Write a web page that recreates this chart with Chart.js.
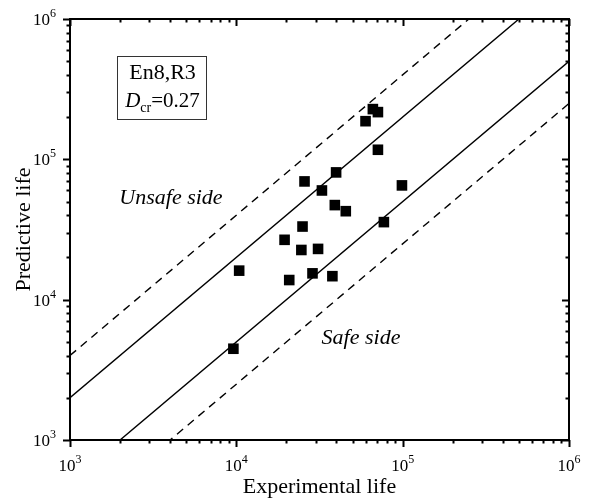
<!DOCTYPE html>
<html>
<head>
<meta charset="utf-8">
<script src="https://cdn.jsdelivr.net/npm/chart.js@4"></script>
<style>
  html, body { margin: 0; padding: 0; background: #fff; }
  #wrap { width: 591px; height: 504px; }
</style>
</head>
<body>
<div id="wrap"><canvas id="lifeChart" width="591" height="504"></canvas></div>
<script>
// experimental vs predicted fatigue life (En8, R3)
const expLife = [66200, 71000, 59800, 71000, 39800, 25700, 32700, 99000, 39100, 45500,
                 77100, 25000, 19500, 24600, 31000, 10400, 20800, 28700, 37800, 9600];
const predLife = [228000, 217000, 187000, 117000, 80700, 69600, 60000, 65200, 47200, 42700,
                  35700, 33200, 26700, 22600, 23000, 16100, 13800, 15400, 14700, 4470];

// scatter band factors: solid = factor 2, dashed = factor 4
const solidFactors = [2, 0.5];
const dashedFactors = [4, 0.25];
const axisMin = 1e3;
const axisMax = 1e6;
const decadeExps = [3, 4, 5, 6];

const serif = '"Liberation Serif", "Times New Roman", serif';

function bandLine(f, dashed) {
  return {
    type: 'line',
    data: [{ x: axisMin, y: f * axisMin }, { x: axisMax, y: f * axisMax }],
    borderColor: '#000',
    borderWidth: 1.4,
    borderDash: dashed ? [8, 6] : [],
    pointRadius: 0,
    fill: false
  };
}

const frameAndTicks = {
  id: 'frameAndTicks',
  afterDatasetsDraw(chart) {
    const ctx = chart.ctx;
    const area = chart.chartArea;
    const xs = chart.scales.x;
    const ys = chart.scales.y;
    ctx.save();
    ctx.strokeStyle = '#000';
    ctx.fillStyle = '#000';

    // frame
    ctx.lineWidth = 2;
    ctx.strokeRect(area.left, area.top, area.right - area.left, area.bottom - area.top);

    // major + minor ticks, outward on bottom/left, inward on top/right
    ctx.lineWidth = 2;
    ctx.beginPath();
    for (let e = 3; e <= 6; e++) {
      for (let m = 1; m <= 9; m++) {
        if (e === 6 && m > 1) break;
        const v = m * Math.pow(10, e);
        const len = m === 1 ? 7 : 3.5;
        const px = Math.round(xs.getPixelForValue(v)) + 0.5;
        const py = Math.round(ys.getPixelForValue(v)) + 0.5;
        ctx.moveTo(px, area.bottom); ctx.lineTo(px, area.bottom + len);
        ctx.moveTo(px, area.top); ctx.lineTo(px, area.top + len);
        ctx.moveTo(area.left, py); ctx.lineTo(area.left - len, py);
        ctx.moveTo(area.right, py); ctx.lineTo(area.right - len, py);
      }
    }
    ctx.stroke();

    // power-of-ten tick labels
    const baseFont = '17px ' + serif;
    const expFont = '12px ' + serif;
    decadeExps.forEach(e => {
      const v = Math.pow(10, e);
      ctx.font = baseFont;
      const wBase = ctx.measureText('10').width;
      ctx.font = expFont;
      const wExp = ctx.measureText(String(e)).width;
      const total = wBase + wExp;

      // x axis
      const px = xs.getPixelForValue(v);
      let x0 = px - total / 2;
      ctx.textAlign = 'left';
      ctx.textBaseline = 'alphabetic';
      ctx.font = baseFont;
      ctx.fillText('10', x0, area.bottom + 31);
      ctx.font = expFont;
      ctx.fillText(String(e), x0 + wBase, area.bottom + 23);

      // y axis
      const py = ys.getPixelForValue(v);
      x0 = area.left - 14 - total;
      ctx.font = baseFont;
      ctx.fillText('10', x0, py + 6);
      ctx.font = expFont;
      ctx.fillText(String(e), x0 + wBase, py - 2);
    });

    // legend box
    const bx = 117, by = 56, bw = 89, bh = 63;
    ctx.fillStyle = '#fff';
    ctx.fillRect(bx, by, bw, bh);
    ctx.lineWidth = 1;
    ctx.strokeStyle = '#333';
    ctx.strokeRect(bx + 0.5, by + 0.5, bw, bh);
    ctx.fillStyle = '#000';
    ctx.textAlign = 'center';
    ctx.font = '22px ' + serif;
    ctx.fillText('En8,R3', bx + bw / 2 + 1, by + 23);

    ctx.textAlign = 'left';
    ctx.font = 'italic 21px ' + serif;
    const wD = ctx.measureText('D').width;
    ctx.font = '14px ' + serif;
    const wSub = ctx.measureText('cr').width;
    ctx.font = '21px ' + serif;
    const wVal = ctx.measureText('=0.27').width;
    let tx = bx + (bw - (wD + wSub + wVal)) / 2 + 1;
    const ty = by + 51;
    ctx.font = 'italic 21px ' + serif;
    ctx.fillText('D', tx, ty);
    tx += wD;
    ctx.font = '14px ' + serif;
    ctx.fillText('cr', tx, ty + 5);
    tx += wSub;
    ctx.font = '21px ' + serif;
    ctx.fillText('=0.27', tx, ty);

    // region labels
    ctx.font = 'italic 22px ' + serif;
    ctx.textAlign = 'center';
    ctx.textBaseline = 'middle';
    ctx.fillText('Unsafe side', 171, 198);
    ctx.fillText('Safe side', 361, 338);
    ctx.restore();
  }
};

const ctx = document.getElementById('lifeChart').getContext('2d');
new Chart(ctx, {
  type: 'scatter',
  data: {
    datasets: [
      ...solidFactors.map(f => bandLine(f, false)),
      ...dashedFactors.map(f => bandLine(f, true)),
      {
        type: 'scatter',
        data: expLife.map((x, i) => ({ x: x, y: predLife[i] })),
        pointStyle: 'rect',
        pointRadius: 7.5,
        backgroundColor: '#000',
        borderWidth: 0
      }
    ]
  },
  options: {
    responsive: false,
    animation: false,
    events: [],
    layout: { padding: { top: 19, right: 22, left: 0, bottom: 0 } },
    plugins: { legend: { display: false }, tooltip: { enabled: false } },
    scales: {
      x: {
        type: 'logarithmic',
        min: axisMin,
        max: axisMax,
        grid: { display: false },
        border: { display: false },
        ticks: { display: false },
        title: {
          display: true,
          text: 'Experimental life',
          color: '#000',
          font: { family: serif, size: 22 },
          padding: { top: 0, bottom: 4 }
        },
        afterFit(scale) { scale.height = 64; }
      },
      y: {
        type: 'logarithmic',
        min: axisMin,
        max: axisMax,
        grid: { display: false },
        border: { display: false },
        ticks: { display: false },
        title: {
          display: true,
          text: 'Predictive life',
          color: '#000',
          font: { family: serif, size: 22 },
          padding: { top: 11, bottom: 0 }
        },
        afterFit(scale) { scale.width = 70; }
      }
    }
  },
  plugins: [frameAndTicks]
});
</script>
</body>
</html>
